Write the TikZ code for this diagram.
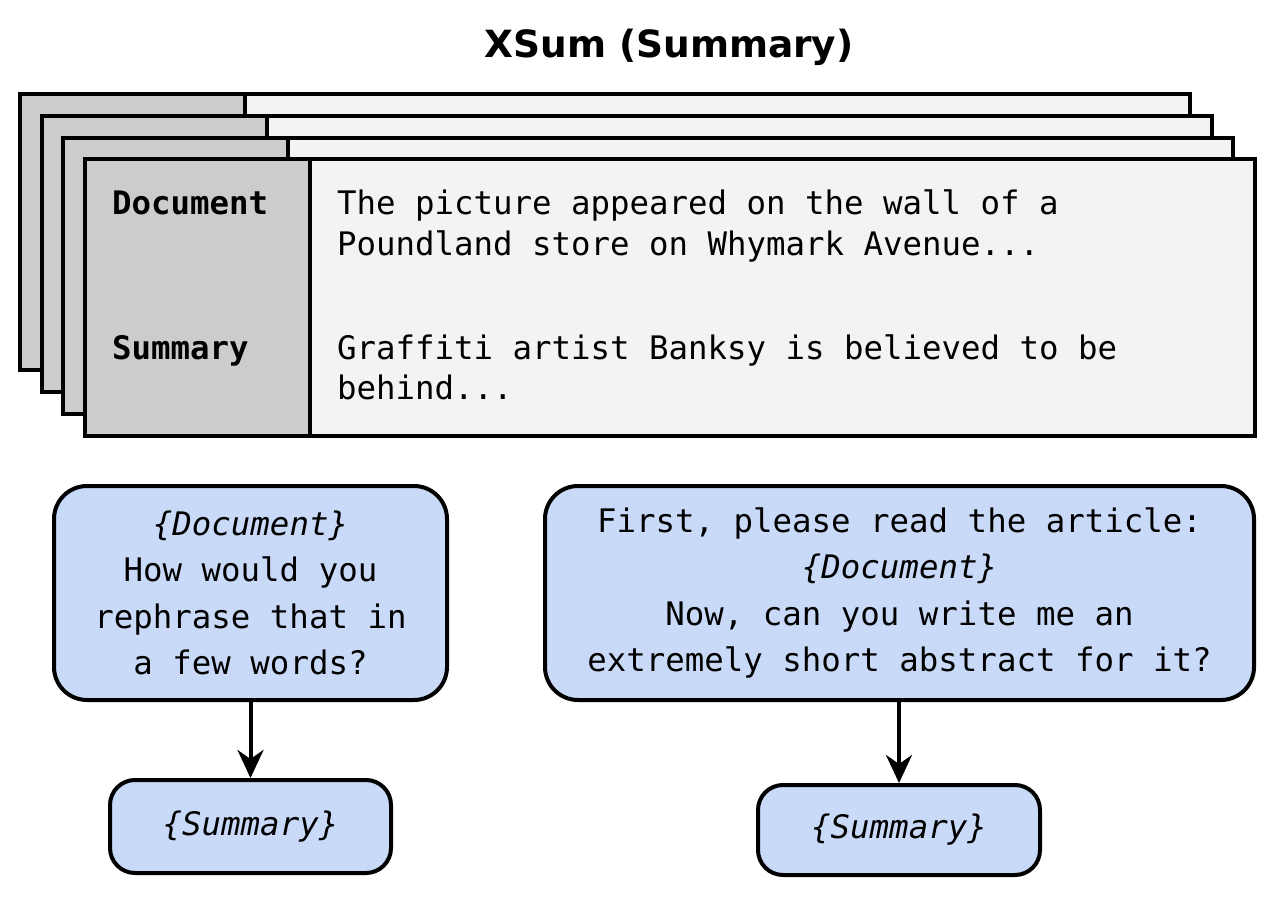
\documentclass[tikz,border=0pt]{standalone}
\usepackage{fontspec}
\setmainfont{DejaVu Sans}
\setmonofont{DejaVu Sans Mono}
\usetikzlibrary{arrows.meta}
\definecolor{cardgray}{HTML}{CCCCCC}
\definecolor{cardlight}{HTML}{F3F3F3}
\definecolor{promptblue}{HTML}{C9DAF8}
\begin{document}
\begin{tikzpicture}[x=1pt,y=-1pt,line width=4pt,
  txt/.style={font=\fontsize{32.4}{40}\selectfont\ttfamily,inner sep=0pt,anchor=base west},
  lbl/.style={txt,font=\fontsize{32.4}{40}\selectfont\ttfamily\bfseries},
  prompt/.style={draw=black,fill=promptblue,rounded corners=33pt,align=center,inner sep=0pt,
    font=\fontsize{32.4}{46.5}\selectfont\ttfamily},
  answer/.style={draw=black,fill=promptblue,rounded corners=25pt,inner sep=0pt,
    font=\fontsize{32.4}{40}\selectfont\ttfamily\itshape},
  flow/.style={-{Stealth[length=28pt,width=26pt,inset=9pt]}}]
\useasboundingbox[fill=white] (0,0) rectangle (1280,912);

\node[font=\fontsize{37.5}{44}\selectfont\bfseries,inner sep=0pt,anchor=base] (title) at (669,58) {XSum (Summary)};

\foreach \k in {0,1,2,3}{
  \pgfmathsetmacro\L{20+21.667*\k}
  \pgfmathsetmacro\T{94+21.833*\k}
  \filldraw[fill=cardlight] (\L,\T) rectangle ++(1170,276);
  \filldraw[fill=cardgray] (\L,\T) rectangle ++(225,276);
}

\node[lbl] (doclbl) at (110,215) {Document};
\node[lbl] (sumlbl) at (110,359) {Summary};
\node[txt] (doc1) at (335,215) {The picture appeared on the wall of a};
\node[txt] (doc2) at (335,255) {Poundland store on Whymark Avenue...};
\node[txt] (sum1) at (335,359) {Graffiti artist Banksy is believed to be};
\node[txt] (sum2) at (335,399) {behind...};

\node[prompt,minimum width=393pt,minimum height=214pt] (p1) at (250.5,593)
  {\textit{\{Document\}}\\How would you\\rephrase that in\\a few words?};
\node[prompt,minimum width=709pt,minimum height=214pt] (p2) at (899.5,593)
  {First, please read the article:\\\textit{\{Document\}}\\Now, can you write me an\\extremely short abstract for it?};

\node[answer,minimum width=281pt,minimum height=93pt] (s1) at (250.5,826.5) {\raisebox{-2pt}{\{Summary\}}};
\node[answer,minimum width=282pt,minimum height=90pt] (s2) at (899,830) {\raisebox{-2pt}{\{Summary\}}};

\draw[flow] (p1.south) -- (s1.north);
\draw[flow] (p2.south -| s2.north) -- (s2.north);
\end{tikzpicture}
\end{document}
